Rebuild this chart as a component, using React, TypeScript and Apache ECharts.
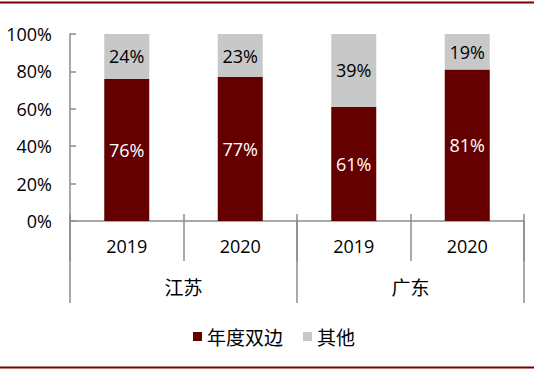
import React, { useEffect, useRef } from "react";
import * as echarts from "echarts";

const years = ["2019", "2020", "2019", "2020"];
const provinces = ["江苏", "广东"];
const bilateral = [76, 77, 61, 81];
const others = [24, 23, 39, 19];
const yTicks = [0, 20, 40, 60, 80, 100];

const DARK = "#640000";
const GRAY = "#C8C8C8";
const AXIS = "#8C8C8C";
const NUM_FONT = "'Open Sans', 'Noto Sans', sans-serif";
const CJK_FONT = "'Noto Sans CJK SC', sans-serif";

export default function App() {
  const ref = useRef<HTMLDivElement>(null);
  useEffect(() => {
    if (!ref.current) return;
    const chart = echarts.init(ref.current, undefined, { renderer: "svg" });
    chart.setOption({
      animation: false,
      grid: { left: 70, right: 10, top: 34, bottom: 151 },
      legend: {
        data: ["年度双边", "其他"],
        left: 188,
        top: 322,
        icon: "rect",
        itemWidth: 9,
        itemHeight: 9,
        itemGap: 20,
        textStyle: { fontFamily: CJK_FONT, fontSize: 19, color: "#000" },
      },
      xAxis: [
        {
          type: "category",
          data: years,
          position: "bottom",
          axisLine: { show: true, lineStyle: { color: AXIS, width: 1.5 } },
          axisTick: { show: true, length: 40, interval: 0, lineStyle: { color: AXIS, width: 1.5 } },
          axisLabel: { margin: 16, fontFamily: NUM_FONT, fontSize: 18, color: "#000" },
        },
        {
          type: "category",
          data: provinces,
          position: "bottom",
          axisLine: { show: false },
          axisTick: { show: true, length: 82, interval: 0, lineStyle: { color: AXIS, width: 1.5 } },
          axisLabel: { margin: 56, fontFamily: CJK_FONT, fontSize: 19, color: "#000" },
        },
        {
          type: "category",
          data: years,
          position: "bottom",
          axisLine: { show: false },
          axisTick: { show: true, inside: true, length: 7, interval: 0, lineStyle: { color: AXIS, width: 1.5 } },
          axisLabel: { show: false },
        },
      ],
      yAxis: {
        type: "value",
        min: yTicks[0],
        max: yTicks[yTicks.length - 1],
        interval: 20,
        axisLine: { show: true, lineStyle: { color: AXIS, width: 1.5 } },
        axisTick: { show: true, inside: true, length: 6, lineStyle: { color: AXIS, width: 1.5 } },
        splitLine: { show: false },
        axisLabel: { formatter: "{value}%", margin: 18, fontFamily: NUM_FONT, fontSize: 18, color: "#000" },
      },
      series: [
        {
          name: "年度双边",
          type: "bar",
          stack: "total",
          xAxisIndex: 0,
          barWidth: 45,
          data: bilateral,
          itemStyle: { color: DARK },
          label: {
            show: true,
            position: "inside",
            formatter: "{c}%",
            color: "#fff",
            fontFamily: NUM_FONT,
            fontSize: 18,
          },
        },
        {
          name: "其他",
          type: "bar",
          stack: "total",
          xAxisIndex: 0,
          barWidth: 45,
          data: others,
          itemStyle: { color: GRAY },
          label: {
            show: true,
            position: "inside",
            formatter: "{c}%",
            color: "#000",
            fontFamily: NUM_FONT,
            fontSize: 18,
          },
        },
      ],
      graphic: [
        { type: "line", shape: { x1: 0, y1: 2.5, x2: 534, y2: 2.5 }, style: { stroke: "#7A0000", lineWidth: 2 } },
        { type: "line", shape: { x1: 0, y1: 367.5, x2: 534, y2: 367.5 }, style: { stroke: "#7A0000", lineWidth: 2 } },
      ],
    });
    return () => chart.dispose();
  }, []);
  return (
    <div
      ref={ref}
      style={{ position: "fixed", left: 0, top: 0, width: 534, height: 372, background: "#fff" }}
    />
  );
}
